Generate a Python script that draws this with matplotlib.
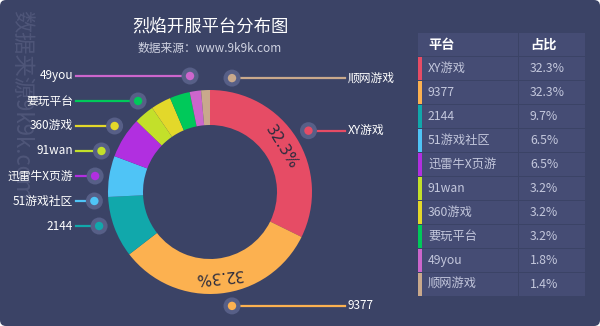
import numpy as np
import matplotlib
matplotlib.use('Agg')
import matplotlib.pyplot as plt
from matplotlib.patches import Circle, Rectangle, FancyBboxPatch

plt.rcParams['font.family'] = ['Noto Sans CJK SC', 'DejaVu Sans']

platforms = ['XY游戏', '9377', '2144', '51游戏社区', '迅雷牛X页游',
             '91wan', '360游戏', '要玩平台', '49you', '顺网游戏']
shares = [32.3, 32.3, 9.7, 6.5, 6.5, 3.2, 3.2, 3.2, 1.8, 1.4]
colors = ['#e64c65', '#fcb150', '#11a8ab', '#4fc4f6', '#b12fe0',
          '#c3e02a', '#e3d82a', '#00c95a', '#cc66cc', '#c9a98c']
right_side = ['XY游戏', '9377', '顺网游戏']

title = '烈焰开服平台分布图'
subtitle = '数据来源：www.9k9k.com'
watermark = '数据来源9k9k.com'

W, H = 600, 326
bg = '#3b4366'
cell = '#454c74'

fig = plt.figure(figsize=(6, 3.26), dpi=100)
fig.patch.set_facecolor('white')
ax = fig.add_axes([0, 0, 1, 1])
ax.set_facecolor('none')
ax.add_patch(FancyBboxPatch((0, 0), W, H, boxstyle='round,pad=0,rounding_size=6',
                            fc=bg, ec='none', zorder=0))

cx, cy = 210, H - 192
R, ring = 102, 35
wedges, _ = ax.pie(shares, colors=colors, radius=R, center=(cx, cy), startangle=90,
                   counterclock=False, frame=True,
                   wedgeprops=dict(width=ring, linewidth=0))
ax.set_xlim(0, W)
ax.set_ylim(0, H)
ax.set_aspect('equal')
ax.axis('off')

# percent labels inside the big slices
for w, v in zip(wedges, shares):
    mid = np.deg2rad((w.theta1 + w.theta2) / 2)
    if v > 20:
        rr = R - ring / 2
        ax.text(cx + rr * np.cos(mid), cy + rr * np.sin(mid), f'{v}%',
                rotation=np.rad2deg(mid) - 90, rotation_mode='anchor',
                ha='center', va='center', fontsize=11, color='#2a2b3e',
                family='DejaVu Sans')

# callouts
left_idx = [i for i, p in enumerate(platforms) if p not in right_side]
left_ys = {}
for k, i in enumerate(left_idx):
    left_ys[i] = -34 + 25 * k
for i, (w, p, c) in enumerate(zip(wedges, platforms, colors)):
    mid = np.deg2rad((w.theta1 + w.theta2) / 2)
    if p in right_side:
        r = 116
        dx = max(abs(r * np.cos(mid)), 22)
        dy = np.sign(np.sin(mid)) * np.sqrt(r ** 2 - dx ** 2)
        x_end, ha, tx = 345, 'left', 348
    else:
        dy = left_ys[i]
        dx = -np.sqrt(max(116 ** 2 - dy ** 2, 20 ** 2))
        x_end, ha, tx = 76, 'right', 73
    px, py = cx + dx, cy + dy
    ax.plot([px, x_end], [py, py], color=c, lw=1.6, zorder=3)
    ax.add_patch(Circle((px, py), 8.5, fc='#575f87', ec='none', zorder=3))
    ax.add_patch(Circle((px, py), 4.2, fc=c, ec='none', zorder=4))
    ax.text(tx, py, p, ha=ha, va='center', fontsize=8.5, color='white', zorder=5)

ax.text(cx, H - 27, title, ha='center', va='center', fontsize=12.5, color='white')
ax.text(cx, H - 48, subtitle, ha='center', va='center', fontsize=8.5,
        color='#d0d3e2')
ax.text(22, H - 10, watermark, ha='center', va='top', rotation=-90,
        fontsize=16, color='#4f5679', zorder=1)

# table
x0, x1, x2 = 418, 519, 585
top, rh = H - 33, 24
rows = [('平台', '占比')] + [(p, f'{v}%') for p, v in zip(platforms, shares)]
for r_i, (a, b) in enumerate(rows):
    yt = top - r_i * rh
    ax.add_patch(Rectangle((x0, yt - rh + 1), x1 - x0 - 1, rh - 1, fc=cell, ec='none'))
    ax.add_patch(Rectangle((x1, yt - rh + 1), x2 - x1, rh - 1, fc=cell, ec='none'))
    ym = yt - rh / 2 + 0.5
    if r_i == 0:
        ax.text(428, ym, a, ha='left', va='center', fontsize=9.5, color='white',
                fontweight='bold')
        ax.text(530, ym, b, ha='left', va='center', fontsize=9.5, color='white',
                fontweight='bold')
    else:
        ax.add_patch(Rectangle((x0, yt - rh + 1), 4, rh - 1, fc=colors[r_i - 1], ec='none'))
        ax.text(428, ym, a, ha='left', va='center', fontsize=8.8, color='#c3c7dc')
        ax.text(530, ym, b, ha='left', va='center', fontsize=8.8, color='#c3c7dc')

fig.savefig('out.png', dpi=100, facecolor=fig.get_facecolor())
